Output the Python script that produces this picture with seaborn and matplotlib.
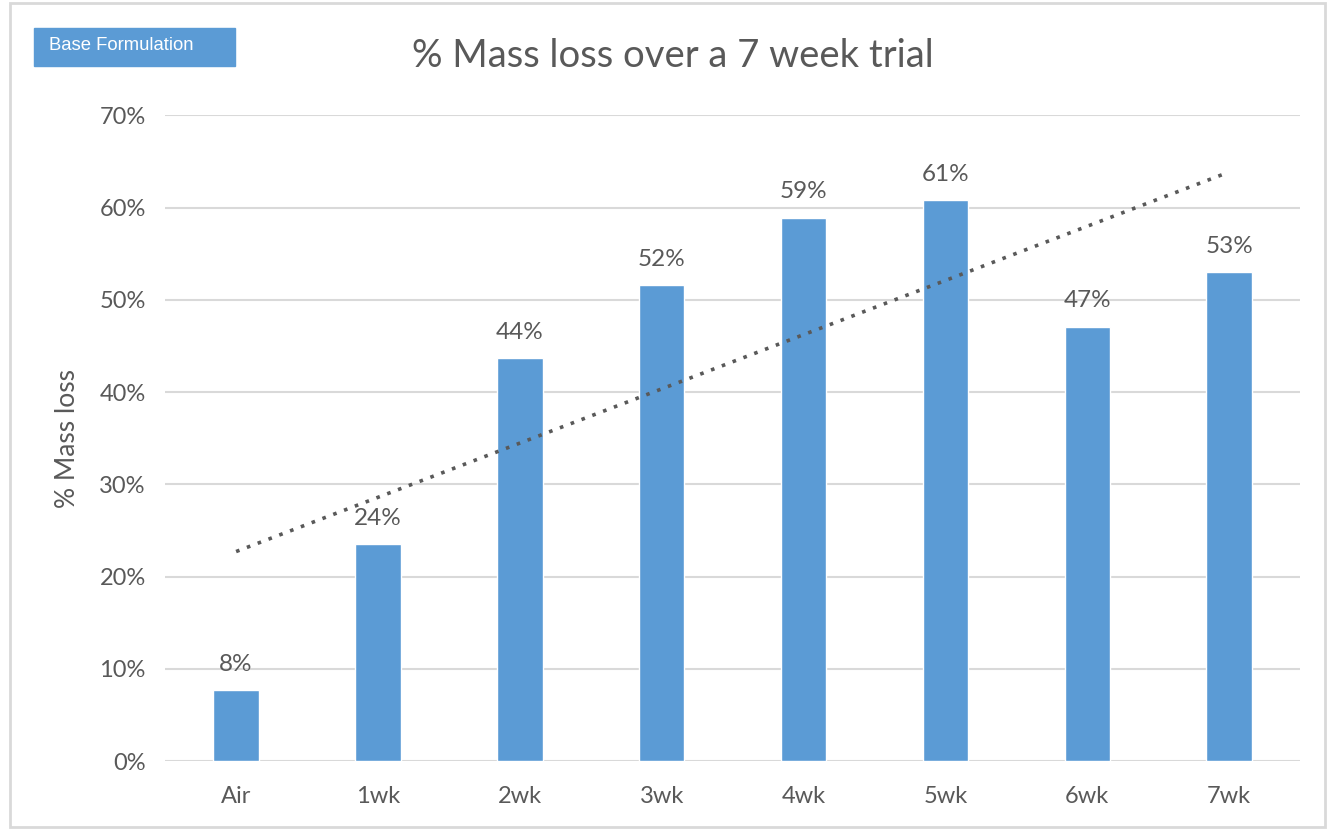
import numpy as np
import pandas as pd
import seaborn as sns
import matplotlib.pyplot as plt
from matplotlib.patches import Rectangle
from matplotlib.ticker import PercentFormatter

weeks = ["Air", "1wk", "2wk", "3wk", "4wk", "5wk", "6wk", "7wk"]
mass_loss = [0.077, 0.235, 0.437, 0.516, 0.589, 0.608, 0.471, 0.530]

df = pd.DataFrame({"week": weeks, "loss": mass_loss})

sns.set_theme(style="white")
plt.rcParams["font.family"] = ["Lato", "DejaVu Sans"]
text_col = "#595959"

fig = plt.figure(figsize=(13.32, 8.3), dpi=100)
ax = fig.add_axes([0.124, 0.083, 0.852, 0.778])

sns.barplot(data=df, x="week", y="loss", color="#5B9BD5", width=0.32,
            saturation=1, ax=ax, zorder=3)
ax.bar_label(ax.containers[0], labels=[f"{v:.0%}" for v in mass_loss],
             padding=11, fontsize=17.5, color=text_col)

# linear trendline
sns.regplot(x=np.arange(len(weeks)), y=np.array(mass_loss), scatter=False,
            ci=None, ax=ax, line_kws=dict(color=text_col, ls=(0, (1, 2.2)),
                                          lw=2.6, zorder=4))

ax.set_ylim(0, 0.7)
ax.set_xlim(-0.5, 7.5)
ax.yaxis.set_major_formatter(PercentFormatter(1.0, decimals=0))
ax.set_yticks(np.arange(0, 0.71, 0.1))
ax.grid(axis="y", color="#D9D9D9", lw=1.5, zorder=0)
ax.set_axisbelow(True)
sns.despine(ax=ax, left=True, bottom=True)
ax.tick_params(axis="both", length=0, labelsize=17, labelcolor=text_col)
ax.tick_params(axis="y", pad=14)
ax.tick_params(axis="x", pad=18)
ax.set_xlabel("")
ax.set_ylabel("% Mass loss", fontsize=19, color=text_col, labelpad=14)

fig.text(0.505, 0.932, "% Mass loss over a 7 week trial", ha="center",
         va="center", fontsize=27.5, color=text_col)

# label box in top-left
fig.patches.append(Rectangle((34 / 1332, 1 - 66 / 830), 201 / 1332, 38 / 830,
                             transform=fig.transFigure, color="#5B9BD5"))
fig.text(49 / 1332, 1 - 46 / 830, "Base Formulation", ha="left", va="center",
         fontsize=13.3, color="white", family=["Liberation Sans", "DejaVu Sans"])

# outer border
fig.patches.append(Rectangle((10 / 1332, 3 / 830), 1315 / 1332, 824 / 830,
                             transform=fig.transFigure, fill=False,
                             ec="#D9D9D9", lw=2))

fig.savefig("out.png", dpi=100)
